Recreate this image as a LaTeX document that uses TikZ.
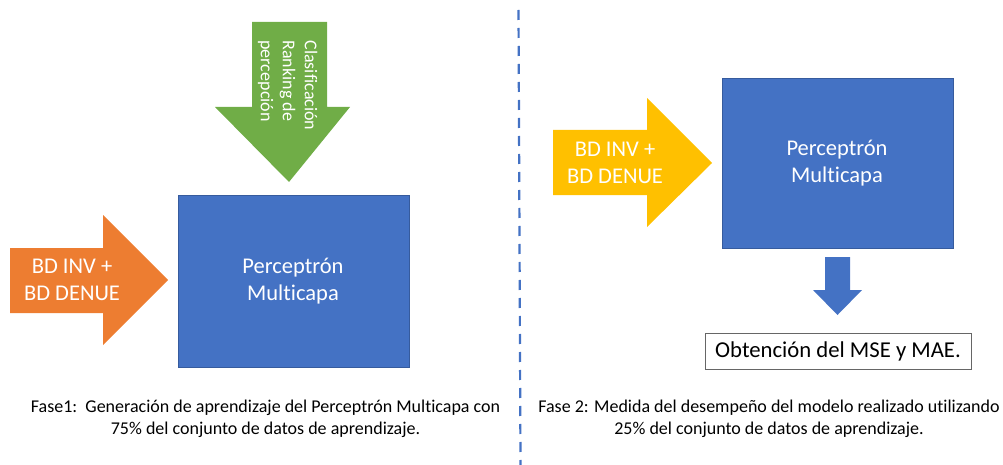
\documentclass[tikz,border=0pt]{standalone}
\usepackage{fontspec}
\setmainfont{Carlito}[Ligatures=NoCommon]
\usetikzlibrary{positioning}

\definecolor{fase orange}{HTML}{ED7D31}
\definecolor{fase green}{HTML}{70AD47}
\definecolor{fase yellow}{HTML}{FFC000}
\definecolor{fase blue}{HTML}{4472C4}

\tikzset{
  bigtext/.style={text=white,align=center,font=\fontsize{22.5}{27}\selectfont},
  capt/.style={align=center,font=\fontsize{18}{21.5}\selectfont},
  redbox/.style={fill=fase blue,draw=fase blue!80!black,line width=0.6pt},
}

\begin{document}
\begin{tikzpicture}[x=1pt,y=-1pt]
  \useasboundingbox (0,0) rectangle (1003,465);

  % fase 1
  \fill[fase orange] (10,248) -- (103,248) -- (103,215) -- (168,280)
    -- (103,345) -- (103,313) -- (10,313) -- cycle;
  \fill[fase green] (252,22) -- (327,22) -- (327,107) -- (350,107)
    -- (289,182) -- (215,107) -- (252,107) -- cycle;
  \draw[redbox] (178,195) rectangle (409,367);
  \node[bigtext] (bdA) at (72,280) {BD INV +\\BD DENUE};
  \node[bigtext] (mlpA) at (293,281) {Perceptrón\\Multicapa};
  \node[text=white,align=left,rotate=-90,anchor=north west,
    font=\fontsize{18}{22}\selectfont] (rank) at (321,37)
    {Clasificación\\Ranking de\\percepción};
  \node[capt] (captA) at (265.5,419)
    {Fase1:\ \ Generación de aprendizaje del Perceptrón Multicapa con\\
     75\% del conjunto de datos de aprendizaje.};

  % separador
  \draw[fase blue,line width=2.2pt,dash pattern=on 10pt off 8pt]
    (518.5,10) -- (520.5,465);

  % fase 2
  \fill[fase yellow] (553,130) -- (647,130) -- (647,98) -- (712,163)
    -- (647,227) -- (647,195) -- (553,195) -- cycle;
  \draw[redbox] (722,78) rectangle (953,248);
  \node[bigtext] (bdB) at (615,163) {BD INV +\\BD DENUE};
  \node[bigtext] (mlpB) at (837,163) {Perceptrón\\Multicapa};
  \fill[fase blue] (825,257) -- (850,257) -- (850,290) -- (862,290)
    -- (837.5,315) -- (813,290) -- (825,290) -- cycle;
  \node[draw=black!60,line width=0.8pt,minimum width=266pt,minimum height=36pt,
    font=\fontsize{22.7}{26}\selectfont] (mse) at (838,351) {Obtención del MSE y MAE.};
  \node[capt] (captB) at (769,419)
    {Fase 2: Medida del desempeño del modelo realizado utilizando\\
     25\% del conjunto de datos de aprendizaje.};
\end{tikzpicture}
\end{document}
